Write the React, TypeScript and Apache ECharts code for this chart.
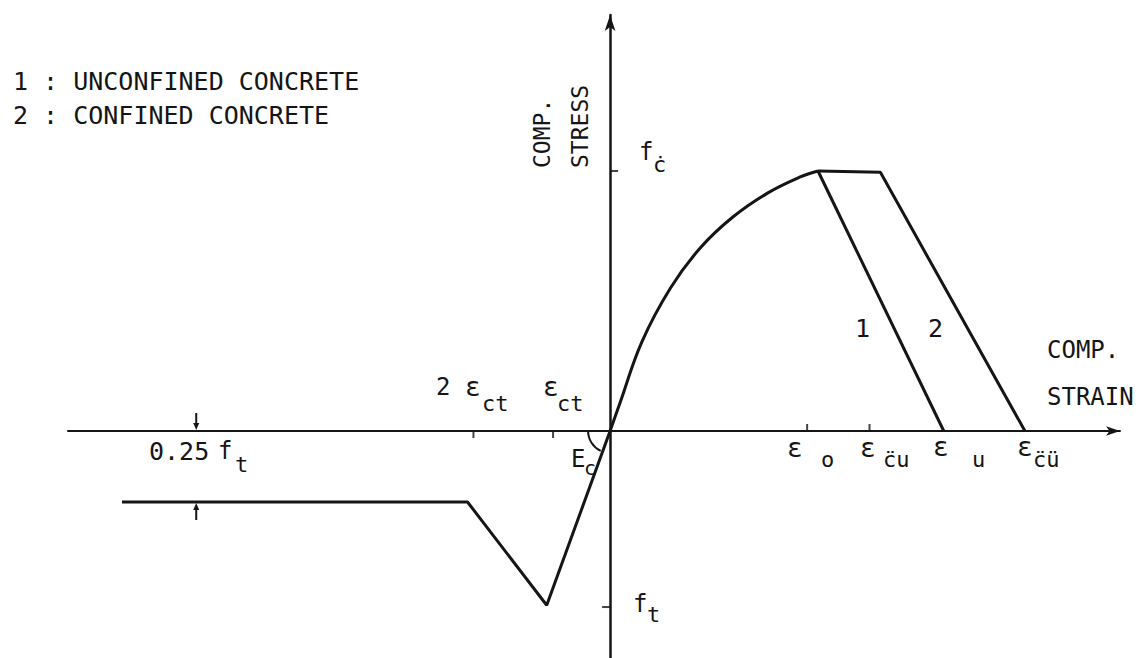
import React, { useEffect, useRef } from "react";
import * as echarts from "echarts";

// ---- data (strain x1000-like units, stress as fraction of f'c) ----
const ascendingCurve: [number, number][] = [
  [0, 0], [0.10, 0.108], [0.32, 0.342], [0.61, 0.55], [0.91, 0.704],
  [1.24, 0.823], [1.59, 0.915], [1.92, 0.977], [2.10, 1.0],
];
const unconfinedDescent: [number, number][] = [[2.10, 1.0], [3.37, 0]];
const confinedBranch: [number, number][] = [[2.10, 1.0], [2.73, 0.995], [4.19, 0]];
const tensionBranch: [number, number][] = [
  [0, 0], [-0.64, -0.67], [-1.44, -0.273], [-4.93, -0.273],
];
const xTicksAbove: number[] = [1.99, 2.62]; // eps_o, eps''_cu
const xTicksBelow: number[] = [-0.576, -1.38]; // eps_ct, 2 eps_ct
const yTicksRight: number[] = [1.0]; // f'c
const yTicksLeft: number[] = [-0.677]; // f_t
const dimArrows: [number, number, number][] = [[-4.18, 0, 1], [-4.18, -0.273, -1]]; // 0.25 f_t
const ecMarker: [number, number][] = [[0, 0]];
const xRange: [number, number] = [-5.475, 5.15];
const yRange: [number, number] = [-0.873, 1.6];

const INK = "#151515";
const MONO = "DejaVu Sans Mono";

function txt(x: number, y: number, text: string, size: number, extra: any = {}) {
  return {
    type: "text",
    x,
    y,
    rotation: extra.rotation || 0,
    style: {
      text,
      fill: INK,
      font: `${size}px "${MONO}"`,
      verticalAlign: "middle",
      align: "left",
      ...(extra.style || {}),
    },
  };
}

export default function App() {
  const ref = useRef<HTMLDivElement>(null);
  useEffect(() => {
    if (!ref.current) return;
    const chart = echarts.init(ref.current, null, { renderer: "svg" });
    const lineStyle = { color: INK, width: 3 };
    const lineBase = {
      type: "line",
      showSymbol: false,
      symbol: "none",
      lineStyle,
      silent: true,
      z: 3,
    };
    const option: any = {
      animation: false,
      backgroundColor: "#ffffff",
      grid: { left: 68, right: 19, top: 15, bottom: 0 },
      xAxis: {
        type: "value",
        min: xRange[0],
        max: xRange[1],
        axisLine: {
          onZero: true,
          lineStyle: { color: INK, width: 2 },
          symbol: ["none", "arrow"],
          symbolSize: [7, 14],
        },
        axisTick: { show: false },
        axisLabel: { show: false },
        splitLine: { show: false },
      },
      yAxis: {
        type: "value",
        min: yRange[0],
        max: yRange[1],
        axisLine: {
          onZero: true,
          lineStyle: { color: INK, width: 2.5 },
          symbol: ["none", "arrow"],
          symbolSize: [8, 16],
        },
        axisTick: { show: false },
        axisLabel: { show: false },
        splitLine: { show: false },
      },
      series: [
        { ...lineBase, name: "ascending", data: ascendingCurve, smooth: 0.4 },
        { ...lineBase, name: "1", data: unconfinedDescent },
        { ...lineBase, name: "2", data: confinedBranch },
        { ...lineBase, name: "tension", data: tensionBranch },
        {
          type: "scatter", silent: true, symbol: "rect", symbolSize: [2, 7], symbolOffset: [0, -3.5],
          itemStyle: { color: INK }, data: xTicksAbove.map((v) => [v, 0]),
        },
        {
          type: "scatter", silent: true, symbol: "rect", symbolSize: [2, 7], symbolOffset: [0, 3.5],
          itemStyle: { color: INK }, data: xTicksBelow.map((v) => [v, 0]),
        },
        {
          type: "scatter", silent: true, symbol: "rect", symbolSize: [8, 2], symbolOffset: [4, 0],
          itemStyle: { color: INK }, data: yTicksRight.map((v) => [0, v]),
        },
        {
          type: "scatter", silent: true, symbol: "rect", symbolSize: [8, 2], symbolOffset: [-4, 0],
          itemStyle: { color: INK }, data: yTicksLeft.map((v) => [0, v]),
        },
        {
          type: "custom",
          silent: true,
          data: dimArrows,
          renderItem: (params: any, api: any) => {
            const p = api.coord([api.value(0), api.value(1)]);
            const d = api.value(2);
            return {
              type: "group",
              children: [
                {
                  type: "line",
                  shape: { x1: p[0], y1: p[1] - d * 18, x2: p[0], y2: p[1] - d * 6 },
                  style: { stroke: INK, lineWidth: 2 },
                },
                {
                  type: "polygon",
                  shape: { points: [[p[0] - 3, p[1] - d * 8], [p[0] + 3, p[1] - d * 8], [p[0], p[1] - d * 1]] },
                  style: { fill: INK },
                },
              ],
            };
          },
        },
        {
          type: "custom",
          silent: true,
          data: ecMarker,
          renderItem: (params: any, api: any) => {
            const p = api.coord([api.value(0), api.value(1)]);
            return {
              type: "arc",
              shape: { cx: p[0], cy: p[1], r: 22, startAngle: Math.PI * 0.64, endAngle: Math.PI, clockwise: true },
              style: { stroke: INK, lineWidth: 2, fill: "none" },
            };
          },
        },
      ],
      graphic: [
        txt(13, 81, "1 : UNCONFINED CONCRETE", 25),
        txt(13, 115, "2 : CONFINED CONCRETE", 25),
        txt(542, 168, "COMP.", 23, { rotation: Math.PI / 2 }),
        txt(580, 168, "STRESS", 23, { rotation: Math.PI / 2 }),
        txt(639, 152, "f", 24),
        txt(653, 164, "c\u0307", 22),
        txt(436, 387, "2", 24),
        txt(465, 387, "ε", 26),
        txt(482, 403, "ct", 22),
        txt(543, 387, "ε", 26),
        txt(557, 403, "ct", 22),
        txt(571, 459, "E", 24),
        txt(584, 468, "c", 20),
        txt(149, 451, "0.25", 25),
        txt(218, 451, "f", 24),
        txt(235, 464, "t", 22),
        txt(633, 604, "f", 24),
        txt(647, 614, "t", 22),
        txt(787, 448, "ε", 26),
        txt(821, 459, "o", 22),
        txt(860, 448, "ε", 26),
        txt(883, 459, "c\u0308u", 22),
        txt(933, 447, "ε", 26),
        txt(972, 459, "u", 22),
        txt(1017, 447, "ε", 26),
        txt(1033, 459, "c\u0308\u00fc", 22),
        txt(855, 328, "1", 25),
        txt(928, 328, "2", 25),
        txt(1047, 350, "COMP.", 24),
        txt(1047, 397, "STRAIN", 24),
      ],
    };
    chart.setOption(option);
    return () => chart.dispose();
  }, []);
  return (
    <div
      ref={ref}
      style={{ position: "absolute", left: 0, top: 0, width: 1139, height: 658, background: "#fff" }}
    />
  );
}
